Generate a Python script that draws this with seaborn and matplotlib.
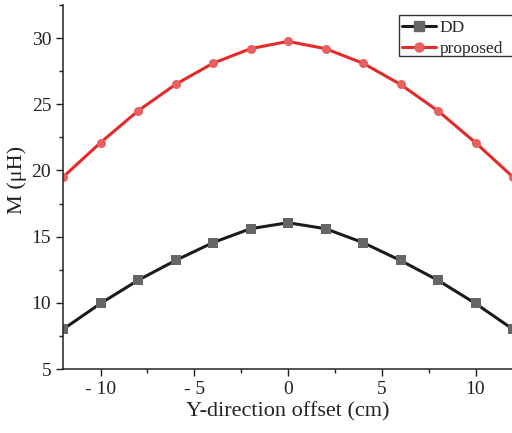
import matplotlib
matplotlib.use("Agg")
import matplotlib.pyplot as plt
import seaborn as sns
import pandas as pd
from matplotlib.ticker import MultipleLocator, FuncFormatter
from matplotlib.lines import Line2D
from matplotlib.patches import Rectangle

offset = [-12, -10, -8, -6, -4, -2, 0, 2, 4, 6, 8, 10, 12]
dd = [8.0, 9.95, 11.7, 13.2, 14.55, 15.6, 16.05, 15.6, 14.55, 13.2, 11.7, 9.95, 8.0]
proposed = [19.5, 22.1, 24.5, 26.5, 28.1, 29.2, 29.75, 29.2, 28.1, 26.5, 24.5, 22.1, 19.5]

df = pd.DataFrame({
    "offset": offset * 2,
    "M": dd + proposed,
    "series": ["DD"] * len(offset) + ["proposed"] * len(offset),
})

sns.set_style("ticks")
plt.rcParams["font.family"] = ["Liberation Serif", "DejaVu Serif"]

W, H = 512, 433
fig = plt.figure(figsize=(W / 100, H / 100), dpi=100)
ax = fig.add_axes([63 / W, 1 - 369 / H, 450 / W, 364 / H])

line_colors = {"DD": "#1c1c1c", "proposed": "#e52a2a"}
marker_colors = {"DD": "#666666", "proposed": "#e86060"}
markers = {"DD": "s", "proposed": "o"}
msize = 6.5

sns.lineplot(data=df, x="offset", y="M", hue="series", palette=line_colors,
             style="series", markers=markers, dashes=False, ax=ax,
             linewidth=2.2, markersize=msize, markeredgewidth=0, legend=False)

for line, s in zip(ax.lines, ["DD", "proposed"]):
    line.set_markerfacecolor(marker_colors[s])
    line.set_markeredgecolor(marker_colors[s])

ax.set_xlim(-12, 12)
ax.set_ylim(5, 32.5)
ax.xaxis.set_major_locator(MultipleLocator(5))
ax.xaxis.set_minor_locator(MultipleLocator(2.5))
ax.yaxis.set_major_locator(MultipleLocator(5))
ax.yaxis.set_minor_locator(MultipleLocator(2.5))
ax.xaxis.set_major_formatter(FuncFormatter(lambda v, p: f"- {abs(int(v))}" if v < 0 else f"{int(v)}"))

ax.tick_params(which="major", direction="out", length=5, width=1, labelsize=14, colors="#222222")
ax.tick_params(which="minor", direction="out", length=3, width=1, colors="#222222")
for sp in ["top", "right"]:
    ax.spines[sp].set_visible(False)
for sp in ["left", "bottom"]:
    ax.spines[sp].set_linewidth(1.1)
    ax.spines[sp].set_color("#222222")

ax.set_xlabel("Y-direction offset (cm)", fontsize=16, color="#222222", labelpad=3)
ax.set_ylabel("M (μH)", fontsize=16, color="#222222")
ax.yaxis.set_label_coords((27 - 63) / 450, 0.52)

handles = [
    Line2D([], [], color=line_colors[s], lw=2.2, marker=markers[s], markersize=msize,
           markerfacecolor=marker_colors[s], markeredgecolor=marker_colors[s])
    for s in ["DD", "proposed"]
]
leg = ax.legend(handles, ["DD", "proposed"], loc="upper left",
                bbox_to_anchor=(399 / W, 1 - 17 / H), bbox_transform=fig.transFigure,
                frameon=False, fontsize=12.5, handlelength=2.0,
                borderpad=0.15, labelspacing=0.3, handletextpad=0.2,
                borderaxespad=0)

# legend box, whose right edge runs past the figure edge as in the reference
fig.add_artist(Rectangle((399 / W, 1 - 56 / H), 130 / W, 41 / H,
                         transform=fig.transFigure, fill=False,
                         edgecolor="#333333", linewidth=1.0, clip_on=False))

fig.savefig("out.png", dpi=100)
